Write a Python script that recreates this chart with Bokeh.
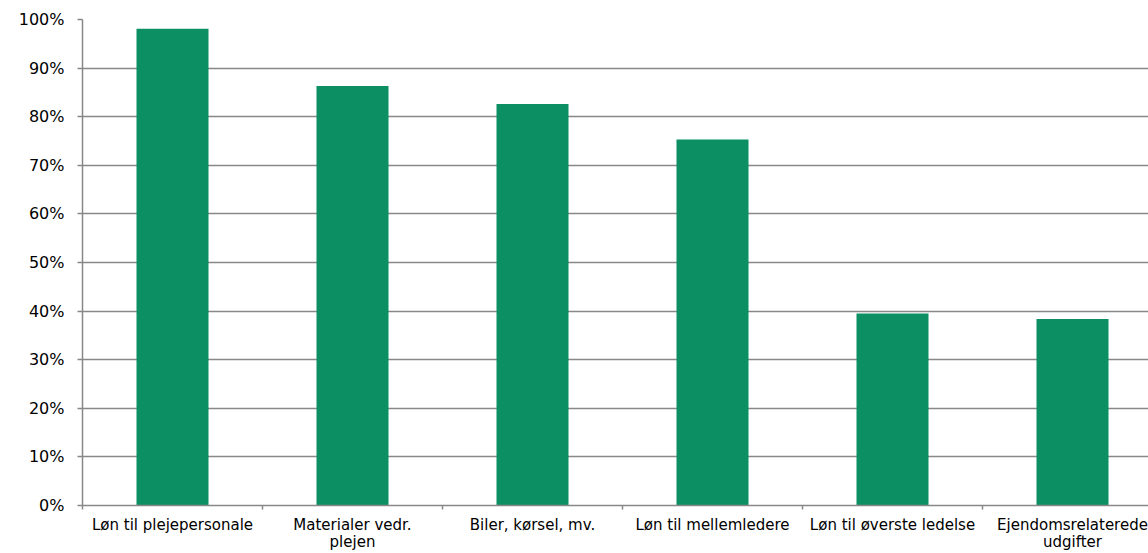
from bokeh.plotting import figure
from bokeh.models import FixedTicker, NumeralTickFormatter, ColumnDataSource, Range1d
from bokeh.embed import file_html
from bokeh.resources import INLINE

# Cost categories and the share reported for each (fraction of respondents)
categories = [
    "Løn til plejepersonale",
    "Materialer vedr.\nplejen",
    "Biler, kørsel, mv.",
    "Løn til mellemledere",
    "Løn til øverste ledelse",
    "Ejendomsrelaterede\nudgifter",
]
shares = [0.981, 0.863, 0.826, 0.753, 0.395, 0.384]
y_ticks = [0.0, 0.1, 0.2, 0.3, 0.4, 0.5, 0.6, 0.7, 0.8, 0.9, 1.0]

FONT = "DejaVu Sans"
GRID = "#888888"
BAR = "#0b8f63"

W, H = 1148, 553
LEFT, TOP, BOTTOM = 82, 19, 48
UNIT_PX = 180  # horizontal pixels per category

centers = [i + 0.5 for i in range(len(categories))]
bounds = list(range(len(categories) + 1))

src = ColumnDataSource(data=dict(x=centers, share=shares))

p = figure(
    width=W, height=H,
    output_backend="svg", toolbar_location=None,
    min_border_left=LEFT, min_border_right=0, min_border_top=TOP, min_border_bottom=BOTTOM,
)
# Each category occupies one unit; the last one runs past the visible edge
p.x_range = Range1d(0, (W - LEFT) / UNIT_PX)
p.y_range = Range1d(0, 1)

p.vbar(x="x", top="share", width=0.4, bottom=0, source=src,
       fill_color=BAR, line_color=None)

p.outline_line_color = None
p.xgrid.visible = False
p.ygrid.ticker = FixedTicker(ticks=y_ticks)
p.ygrid.grid_line_color = GRID
p.ygrid.grid_line_width = 1.5

# y axis: percentages
p.yaxis.ticker = FixedTicker(ticks=y_ticks)
p.yaxis.formatter = NumeralTickFormatter(format="0%")
p.yaxis.axis_line_color = GRID
p.yaxis.axis_line_width = 1.5
p.yaxis.major_tick_line_color = GRID
p.yaxis.major_tick_line_width = 1.5
p.yaxis.major_tick_in = 0
p.yaxis.major_tick_out = 5
p.yaxis.minor_tick_line_color = None
p.yaxis.major_label_standoff = 13
p.yaxis.major_label_text_font = FONT
p.yaxis.major_label_text_font_size = "16px"
p.yaxis.major_label_text_color = "#000000"

# x axis: labels centred on each category, tick marks on the boundaries
p.xaxis.ticker = FixedTicker(ticks=centers, minor_ticks=bounds)
p.xaxis.major_label_overrides = {c: lab for c, lab in zip(centers, categories)}
p.xaxis.axis_line_color = GRID
p.xaxis.axis_line_width = 1.5
p.xaxis.major_tick_line_color = None
p.xaxis.major_tick_in = 0
p.xaxis.major_tick_out = 4
p.xaxis.minor_tick_line_color = GRID
p.xaxis.minor_tick_line_width = 1.5
p.xaxis.minor_tick_in = 0
p.xaxis.minor_tick_out = 4
p.xaxis.major_label_standoff = 6
p.xaxis.major_label_text_font = FONT
p.xaxis.major_label_text_font_size = "15px"
p.xaxis.major_label_text_line_height = 0.95
p.xaxis.major_label_text_color = "#000000"
p.xaxis.major_label_text_align = "center"

open("out.html", "w").write(file_html(p, INLINE))
